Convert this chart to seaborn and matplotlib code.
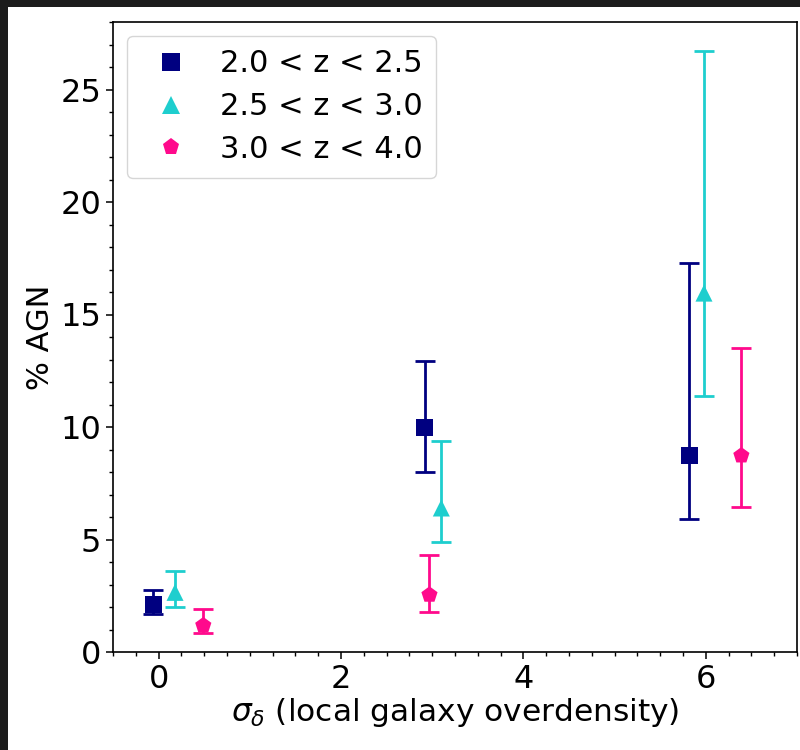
import numpy as np
import pandas as pd
import seaborn as sns
import matplotlib
matplotlib.use("Agg")
import matplotlib.pyplot as plt
from matplotlib.patches import Rectangle
from matplotlib.ticker import MultipleLocator

# ---- data ----
labels = ["2.0 < z < 2.5", "2.5 < z < 3.0", "3.0 < z < 4.0"]
x_lowz = [-0.06, 2.92, 5.82]
y_lowz = [2.1, 9.96, 8.73]
lo_lowz = [1.68, 8.02, 5.9]
hi_lowz = [2.76, 12.93, 17.29]

x_midz = [0.18, 3.10, 5.98]
y_midz = [2.65, 6.4, 15.95]
lo_midz = [1.98, 4.87, 11.4]
hi_midz = [3.6, 9.4, 26.7]

x_hiz = [0.49, 2.97, 6.39]
y_hiz = [1.18, 2.54, 8.73]
lo_hiz = [0.84, 1.8, 6.45]
hi_hiz = [1.9, 4.3, 13.5]

colors = ["#000080", "#1ECECE", "#FF0A8C"]
markers = ["s", "^", "p"]

sns.set_theme(style="ticks")
plt.rcParams["font.family"] = ["DejaVu Sans"]
plt.rcParams["text.color"] = "black"
plt.rcParams["axes.labelcolor"] = "black"

fig = plt.figure(figsize=(8, 7.5), dpi=100, facecolor="#1c1c1c")
bg = Rectangle((8 / 800, 0), 1 - 8 / 800, 1 - 7 / 750,
               transform=fig.transFigure, facecolor="white",
               edgecolor="none", zorder=-10)
fig.add_artist(bg)
ax = fig.add_axes([113 / 800, 1 - 652 / 750, (797 - 113) / 800, (652 - 22) / 750])
ax.set_zorder(1)

series = [
    (x_lowz, y_lowz, lo_lowz, hi_lowz),
    (x_midz, y_midz, lo_midz, hi_midz),
    (x_hiz, y_hiz, lo_hiz, hi_hiz),
]
rows = []
for lab, (xs, ys, los, his) in zip(labels, series):
    for xv, yv, lv, hv in zip(xs, ys, los, his):
        rows.append(dict(x=xv, y=yv, lo=lv, hi=hv, z=lab))
df = pd.DataFrame(rows)

for lab, col in zip(labels, colors):
    d = df[df.z == lab]
    ax.errorbar(d.x, d.y, yerr=[d.y - d.lo, d.hi - d.y], fmt="none",
                ecolor=col, elinewidth=2.0, capsize=7, capthick=2.0, zorder=2)

sns.scatterplot(data=df, x="x", y="y", hue="z", style="z",
                palette=dict(zip(labels, colors)),
                markers=dict(zip(labels, markers)),
                hue_order=labels, style_order=labels,
                s=150, edgecolor="none", linewidth=0, ax=ax, zorder=3)

ax.set_xlim(-0.5, 7)
ax.set_ylim(0, 28)
ax.xaxis.set_major_locator(MultipleLocator(2))
ax.xaxis.set_minor_locator(MultipleLocator(0.25))
ax.yaxis.set_major_locator(MultipleLocator(5))
ax.yaxis.set_minor_locator(MultipleLocator(1))
ax.tick_params(which="major", length=5, width=1.1, labelsize=23, colors="black", direction="out")
ax.tick_params(which="minor", length=3, width=1.0, colors="black", direction="out")
for sp in ax.spines.values():
    sp.set_visible(True)
    sp.set_color("black")
    sp.set_linewidth(1.2)

ax.set_xlabel(r"$\sigma_{\delta}$ (local galaxy overdensity)", fontsize=22.5, labelpad=1, color="black")
ax.set_ylabel("% AGN", fontsize=22, labelpad=4, color="black")

handles, labs = ax.get_legend_handles_labels()
leg = ax.legend(handles, labs, loc="upper left", fontsize=22, frameon=True,
                labelspacing=0.45, handletextpad=0.6, borderpad=0.45,
                markerscale=1.0, borderaxespad=0.45, labelcolor="black")
leg.get_frame().set_edgecolor("#cccccc")
leg.get_frame().set_linewidth(1.0)

fig.savefig("out.png", dpi=100, facecolor=fig.get_facecolor())
